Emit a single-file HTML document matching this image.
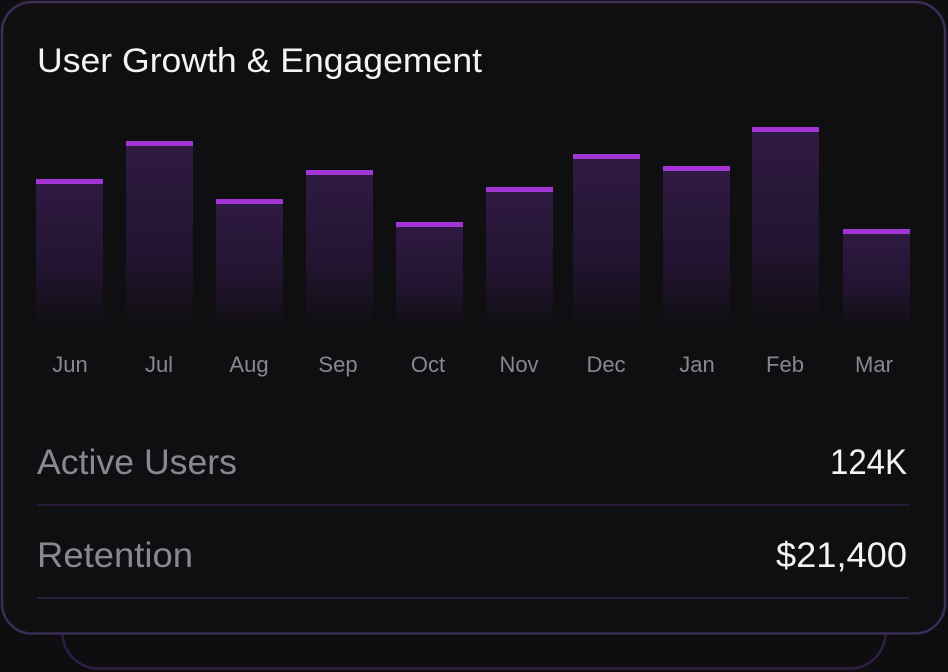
<!DOCTYPE html>
<html><head><meta charset="utf-8">
<style>
html,body{margin:0;padding:0;background:#0e0d0f;}
svg{display:block;}
text{font-family:"Liberation Sans",sans-serif;}
</style></head>
<body>
<svg width="948" height="672" viewBox="0 0 948 672" xmlns="http://www.w3.org/2000/svg">
<defs>
<linearGradient id="bg" x1="0" y1="0" x2="0" y2="1" gradientUnits="objectBoundingBox">
<stop offset="0" stop-color="#301a43"/>
<stop offset="0.6" stop-color="#221430"/>
<stop offset="1" stop-color="#0f0e10" stop-opacity="1"/>
</linearGradient>
</defs>
<rect width="948" height="672" fill="#0e0d0f"/>
<!-- back card -->
<rect x="62.5" y="560" width="823" height="108.5" rx="36" fill="#0e0d0f" stroke="#2f1e45" stroke-width="2.5"/>
<!-- main card -->
<rect x="2" y="2" width="943" height="631.5" rx="30" fill="#0f0e10" stroke="#3c2d56" stroke-width="2.5"/>
<text x="37" y="72" font-size="34" fill="#f4f2f5" textLength="445" lengthAdjust="spacingAndGlyphs">User Growth &amp; Engagement</text>
<g>
<rect x="36" y="179" width="67" height="151" fill="url(#bg)"/><rect x="36" y="179" width="67" height="5" fill="#a335d5"/>
<rect x="126" y="141" width="67" height="189" fill="url(#bg)"/><rect x="126" y="141" width="67" height="5" fill="#a335d5"/>
<rect x="216" y="199" width="67" height="131" fill="url(#bg)"/><rect x="216" y="199" width="67" height="5" fill="#a335d5"/>
<rect x="306" y="170" width="67" height="160" fill="url(#bg)"/><rect x="306" y="170" width="67" height="5" fill="#a335d5"/>
<rect x="396" y="222" width="67" height="108" fill="url(#bg)"/><rect x="396" y="222" width="67" height="5" fill="#a335d5"/>
<rect x="486" y="187" width="67" height="143" fill="url(#bg)"/><rect x="486" y="187" width="67" height="5" fill="#a335d5"/>
<rect x="573" y="154" width="67" height="176" fill="url(#bg)"/><rect x="573" y="154" width="67" height="5" fill="#a335d5"/>
<rect x="663" y="166" width="67" height="164" fill="url(#bg)"/><rect x="663" y="166" width="67" height="5" fill="#a335d5"/>
<rect x="752" y="127" width="67" height="203" fill="url(#bg)"/><rect x="752" y="127" width="67" height="5" fill="#a335d5"/>
<rect x="843" y="229" width="67" height="101" fill="url(#bg)"/><rect x="843" y="229" width="67" height="5" fill="#a335d5"/>
</g>
<g font-size="22" fill="#8b8690" text-anchor="middle">
<text x="70" y="372">Jun</text>
<text x="159" y="372">Jul</text>
<text x="249" y="372">Aug</text>
<text x="338" y="372">Sep</text>
<text x="428" y="372">Oct</text>
<text x="519" y="372">Nov</text>
<text x="606" y="372">Dec</text>
<text x="697" y="372">Jan</text>
<text x="785" y="372">Feb</text>
<text x="874" y="372">Mar</text>
</g>
<text x="37" y="474" font-size="35" fill="#8b8690" textLength="200" lengthAdjust="spacingAndGlyphs">Active Users</text>
<text x="907" y="474" font-size="35" fill="#f4f2f5" text-anchor="end" textLength="77" lengthAdjust="spacingAndGlyphs">124K</text>
<rect x="37" y="504" width="872" height="2" fill="#2a1a3c"/>
<text x="37" y="567" font-size="35" fill="#8b8690" textLength="156" lengthAdjust="spacingAndGlyphs">Retention</text>
<text x="907" y="567" font-size="35" fill="#f4f2f5" text-anchor="end" textLength="131" lengthAdjust="spacingAndGlyphs">$21,400</text>
<rect x="37" y="597" width="872" height="2" fill="#2a1a3c"/>
</svg>
</body></html>
